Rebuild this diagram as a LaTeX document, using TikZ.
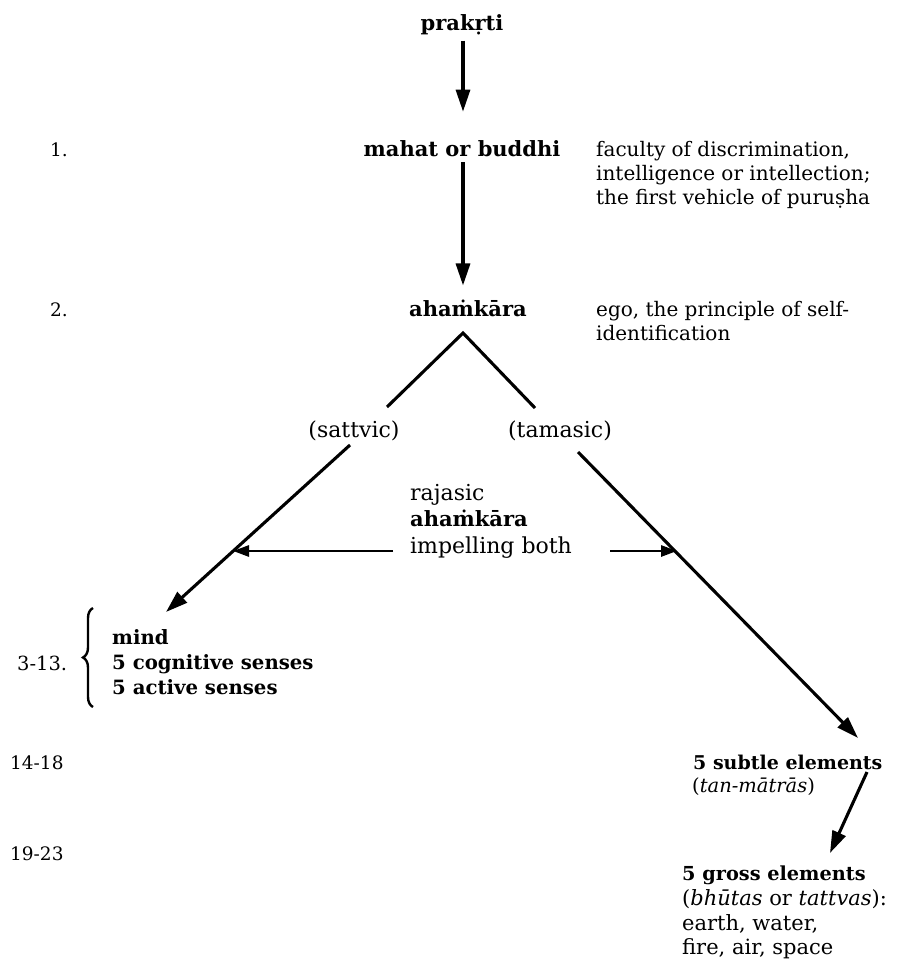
\documentclass[tikz,border=0pt]{standalone}
\usepackage{fontspec}
\setmainfont{DejaVu Serif}
\usetikzlibrary{arrows.meta,decorations.pathreplacing}
\begin{document}
\begin{tikzpicture}[x=1pt,y=-1pt,
  lab/.style={inner sep=0pt, font=\fontsize{21}{24}\selectfont\bfseries, anchor=base},
  labw/.style={inner sep=0pt, font=\fontsize{19.7}{23}\selectfont\bfseries, anchor=base west},
  txt/.style={inner sep=0pt, font=\fontsize{20}{24}\selectfont, anchor=base west},
  mid/.style={inner sep=0pt, font=\fontsize{22}{26}\selectfont},
  low/.style={inner sep=0pt, font=\fontsize{21}{24}\selectfont, anchor=base west},
  num/.style={inner sep=0pt, font=\fontsize{18.5}{22}\selectfont, anchor=base west},
  bigarrow/.style={line width=3.1pt, -{Triangle[length=22pt,width=14pt]}},
  smallarrow/.style={line width=2.8pt, -{Triangle[length=16pt,width=11pt]}},
  plain/.style={line width=3.1pt}
]
\useasboundingbox (0,0) rectangle (907,968);

% main column
\node[lab] (prakrti) at (462,31) {prakṛti};
\node[lab] (mahat) at (462,157) {mahat or buddhi};
\node[lab] (aham) at (468,316) {ahaṁkāra};

% numbers
\node[num] (n1) at (50,157) {1.};
\node[num] (n2) at (50,316) {2.};
\node[num, font=\fontsize{19.5}{22}\selectfont] (n3) at (17,670) {3-13.};
\node[num] (n14) at (10,769) {14-18};
\node[num] (n19) at (10,860) {19-23};

% right descriptions
\node[txt] (f1) at (596,157) {faculty of discrimination,};
\node[txt] (f2) at (596,181) {intelligence or intellection;};
\node[txt] (f3) at (596,205) {the first vehicle of puruṣha};
\node[txt] (e1) at (596,316) {ego, the principle of self-};
\node[txt] (e2) at (596,340) {identification};

% arrows in main column
\draw[bigarrow] (prakrti.south) ++(1,5) -- ++(0,71);
\draw[bigarrow] (mahat.south) ++(1,5) -- ++(0,123);

% triangle
\coordinate (apex) at (463,333);
\draw[plain, line join=miter] (387,407) -- (apex) -- (535,408);

\node[mid, anchor=base] (sattvic) at (354,437) {(sattvic)};
\node[mid, anchor=base] (tamasic) at (560,437) {(tamasic)};

% rajasic
\node[mid, anchor=base west] (r1) at (410,500) {rajasic};
\node[mid, anchor=base west, font=\fontsize{21}{24}\selectfont\bfseries] (r2) at (410,526) {ahaṁkāra};
\node[mid, anchor=base west] (r3) at (410,553) {impelling both};

% diagonal arrows
\coordinate (lstart) at (350,445);
\coordinate (ltip) at (166,612);
\draw[bigarrow] (lstart) -- (ltip);
\coordinate (rstart) at (578,452);
\coordinate (rtip) at (858,738);
\draw[bigarrow] (rstart) -- (rtip);

% horizontal arrows
\coordinate (hl) at (233,551);
\coordinate (hr) at (677,551);
\draw[smallarrow] (393,551) -- (hl);
\draw[smallarrow] (610,551) -- (hr);

% mind block
\node[labw] (mind) at (112,644) {mind};
\node[labw] (cog) at (112,669) {5 cognitive senses};
\node[labw] (act) at (112,694) {5 active senses};
\draw[line width=2.4pt, decorate, decoration={brace, amplitude=10pt}] (93,707) -- (93,608);

% subtle elements
\node[labw, font=\fontsize{19}{22}\selectfont\bfseries] (subtle) at (693,769) {5 subtle elements};
\node[low, font=\fontsize{19.5}{22}\selectfont] (tan) at (692,792) {(\textit{tan-mātrās})};
\draw[bigarrow] (867,772) -- (830,853);

% gross elements
\node[labw, font=\fontsize{19.3}{22}\selectfont\bfseries] (gross) at (682,880) {5 gross elements};
\node[low] (g2) at (682,905) {(\textit{bhūtas} or \textit{tattvas}):};
\node[low] (g3) at (682,930) {earth, water,};
\node[low] (g4) at (682,954) {fire, air, space};
\end{tikzpicture}
\end{document}
